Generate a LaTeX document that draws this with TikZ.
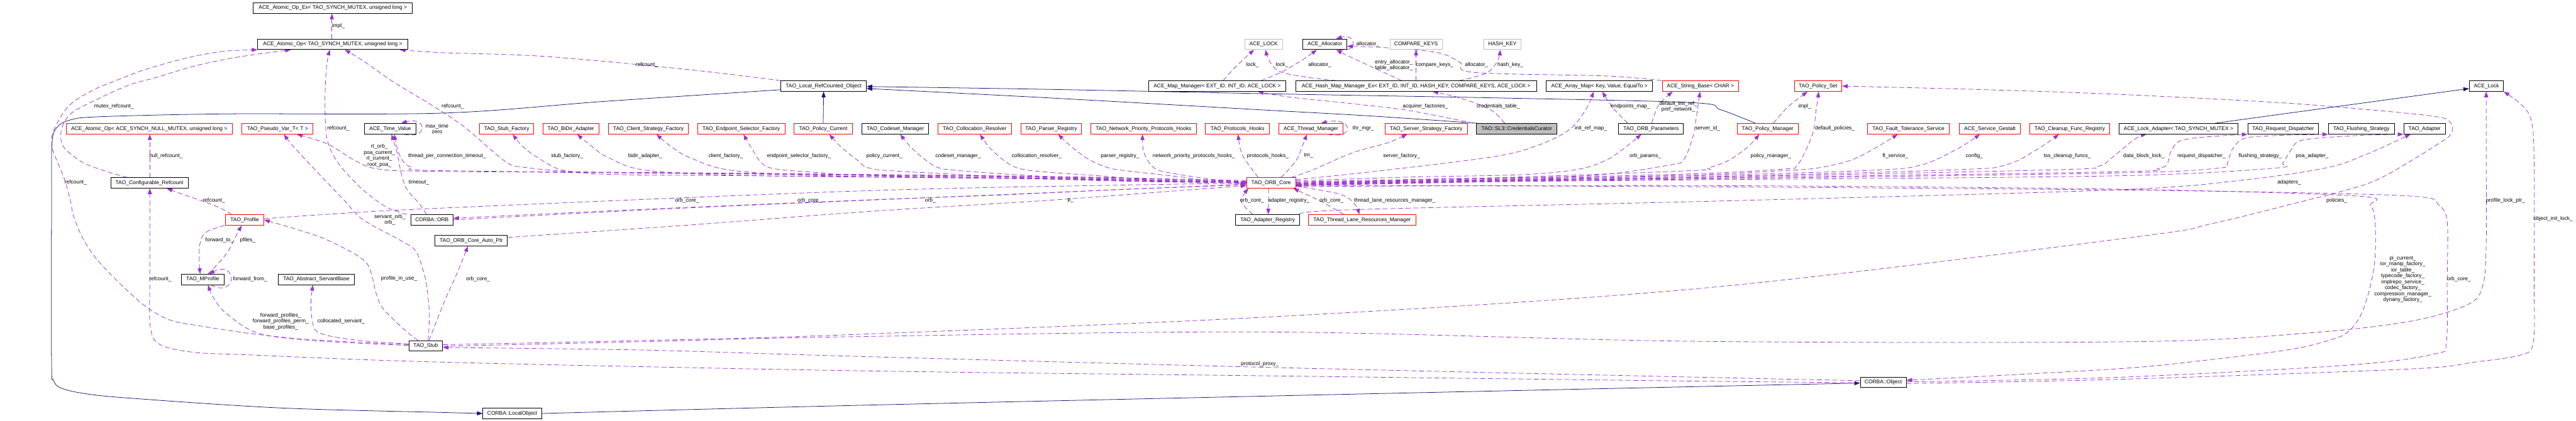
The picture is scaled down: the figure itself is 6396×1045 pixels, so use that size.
\documentclass[tikz,border=0pt]{standalone}
\usepackage{fontspec}
\setmainfont{Liberation Sans}
\usetikzlibrary{arrows.meta}
\definecolor{usecol}{HTML}{9A32CD}
\definecolor{inhcol}{HTML}{191970}
\definecolor{redcol}{HTML}{FF0000}
\definecolor{graycol}{HTML}{BFBFBF}
\pgfdeclarelayer{bgl}
\pgfdeclarelayer{edges}
\pgfsetlayers{bgl,edges,main}
\begin{document}
\begin{tikzpicture}[x=1pt,y=-1pt,
 box/.style={draw=black,line width=1.4pt,fill=white,minimum height=26pt,inner sep=0pt,font=\fontsize{13.2}{14.8}\selectfont},
 rbox/.style={box,draw=redcol},
 gbox/.style={box,draw=graycol},
 mbox/.style={box,fill=graycol},
 lbl/.style={inner sep=0pt,align=center,font=\fontsize{13.2}{14.8}\selectfont},
 use/.style={draw=usecol,line width=1.2pt,dash pattern=on 12pt off 7pt,-{Triangle[length=14pt,width=10pt]}},
 inh/.style={draw=inhcol,line width=1.2pt,-{Triangle[length=14pt,width=10pt]}},
 sm/.style={smooth,tension=0.55}
]
\begin{pgfonlayer}{bgl}
\fill[white] (0,0) rectangle (6396,1045);
\end{pgfonlayer}
\useasboundingbox (0,0) rectangle (6396,1045);

% ---------- nodes ----------
\node[box,minimum width=395] (aopex) at (826.5,20) {ACE\_Atomic\_Op\_Ex< TAO\_SYNCH\_MUTEX, unsigned long >};
\node[box,minimum width=372] (aop) at (826,110) {ACE\_Atomic\_Op< TAO\_SYNCH\_MUTEX, unsigned long >};
\node[gbox,minimum width=93] (acelock) at (3137.5,110) {ACE\_LOCK};
\node[box,minimum width=109] (alloc) at (3289.5,110) {ACE\_Allocator};
\node[gbox,minimum width=130] (cmpk) at (3516,110) {COMPARE\_KEYS};
\node[gbox,minimum width=91] (hashk) at (3730.5,110) {HASH\_KEY};

\node[box,minimum width=212] (lrc) at (2045,214) {TAO\_Local\_RefCounted\_Object};
\node[box,minimum width=340] (mapmgr) at (3022,214) {ACE\_Map\_Manager< EXT\_ID, INT\_ID, ACE\_LOCK >};
\node[box,minimum width=598] (hashmap) at (3516,214) {ACE\_Hash\_Map\_Manager\_Ex< EXT\_ID, INT\_ID, HASH\_KEY, COMPARE\_KEYS, ACE\_LOCK >};
\node[box,minimum width=264] (arraymap) at (3971,214) {ACE\_Array\_Map< Key, Value, EqualTo >};
\node[rbox,minimum width=190] (strbase) at (4222,214) {ACE\_String\_Base< CHAR >};
\node[rbox,minimum width=118] (polset) at (4514,214) {TAO\_Policy\_Set};
\node[box,minimum width=85] (acelk) at (6173.5,214) {ACE\_Lock};

\node[rbox,minimum width=413] (aopnull) at (370.5,320) {ACE\_Atomic\_Op< ACE\_SYNCH\_NULL\_MUTEX, unsigned long >};
\node[rbox,minimum width=176] (pseudo) at (689,320) {TAO\_Pseudo\_Var\_T< T >};
\node[box,minimum width=128] (timev) at (969,320) {ACE\_Time\_Value};
\node[rbox,minimum width=134] (stubf) at (1258,320) {TAO\_Stub\_Factory};
\node[rbox,minimum width=139] (bidir) at (1417.5,320) {TAO\_BiDir\_Adapter};
\node[rbox,minimum width=198] (clientf) at (1610,320) {TAO\_Client\_Strategy\_Factory};
\node[rbox,minimum width=217] (epsel) at (1840.5,320) {TAO\_Endpoint\_Selector\_Factory};
\node[rbox,minimum width=144] (polcur) at (2044,320) {TAO\_Policy\_Current};
\node[box,minimum width=166] (codeset) at (2223,320) {TAO\_Codeset\_Manager};
\node[rbox,minimum width=182] (colres) at (2420,320) {TAO\_Collocation\_Resolver};
\node[rbox,minimum width=150] (parser) at (2610,320) {TAO\_Parser\_Registry};
\node[rbox,minimum width=263] (netprio) at (2839.5,320) {TAO\_Network\_Priority\_Protocols\_Hooks};
\node[rbox,minimum width=159] (prothooks) at (3072.5,320) {TAO\_Protocols\_Hooks};
\node[rbox,minimum width=160] (thrmgr) at (3255,320) {ACE\_Thread\_Manager};
\node[rbox,minimum width=204] (srvf) at (3541,320) {TAO\_Server\_Strategy\_Factory};
\node[mbox,minimum width=200] (cc) at (3766,320) {TAO::SL3::CredentialsCurator};
\node[box,minimum width=161] (orbparams) at (4099.5,320) {TAO\_ORB\_Parameters};
\node[rbox,minimum width=152] (polmgr) at (4389,320) {TAO\_Policy\_Manager};
\node[rbox,minimum width=203] (ft) at (4738.5,320) {TAO\_Fault\_Tolerance\_Service};
\node[rbox,minimum width=153] (gestalt) at (4940.5,320) {ACE\_Service\_Gestalt};
\node[rbox,minimum width=198] (cleanup) at (5139,320) {TAO\_Cleanup\_Func\_Registry};
\node[box,minimum width=296] (lockad) at (5409,320) {ACE\_Lock\_Adapter< TAO\_SYNCH\_MUTEX >};
\node[box,minimum width=176] (reqdisp) at (5669,320) {TAO\_Request\_Dispatcher};
\node[box,minimum width=164] (flush) at (5863,320) {TAO\_Flushing\_Strategy};
\node[box,minimum width=104] (adapter) at (6020,320) {TAO\_Adapter};

\node[box,minimum width=192] (cfgref) at (371,454.5) {TAO\_Configurable\_Refcount};
\node[rbox,minimum width=122] (orbcore) at (3156,454.5) {TAO\_ORB\_Core};
\node[rbox,minimum width=95] (profile) at (607.5,546.5) {TAO\_Profile};
\node[box,minimum width=105] (orb) at (1072.5,546.5) {CORBA::ORB};
\node[box,minimum width=159] (adreg) at (3147.5,546.5) {TAO\_Adapter\_Registry};
\node[rbox,minimum width=266] (tlrm) at (3382,546.5) {TAO\_Thread\_Lane\_Resources\_Manager};
\node[box,minimum width=180] (autoptr) at (1170,598) {TAO\_ORB\_Core\_Auto\_Ptr};
\node[box,minimum width=105] (mprofile) at (503.5,694.5) {TAO\_MProfile};
\node[box,minimum width=189] (servant) at (785.5,694.5) {TAO\_Abstract\_ServantBase};
\node[box,minimum width=84] (stub) at (1057,859.5) {TAO\_Stub};
\node[box,minimum width=114] (corbaobj) at (4676,950) {CORBA::Object};
\node[box,minimum width=146] (localobj) at (1272,1027.5) {CORBA::LocalObject};

% ---------- labels ----------
\node[lbl] (t01) at (840,64) {impl\_};
\node[lbl] (t02) at (1606,161) {refcount\_};
\node[lbl] (t03) at (1124,265) {refcount\_};
\node[lbl] (t04) at (840,319) {refcount\_};
\node[lbl] (t05) at (283,265) {mutex\_refcount\_};
\node[lbl] (t06) at (188,453) {refcount\_};
\node[lbl] (t07) at (412,387) {null\_refcount\_};
\node[lbl] (t08) at (531,499) {refcount\_};
\node[lbl] (t09) at (398,693) {refcount\_};
\node[lbl] (t10) at (545,597) {forward\_to\_};
\node[lbl] (t11) at (615,597) {pfiles\_};
\node[lbl] (t12) at (621,693) {forward\_from\_};
\node[lbl] (t13) at (697,799) {forward\_profiles\_\\forward\_profiles\_perm\_\\base\_profiles\_};
\node[lbl] (t14) at (847,799) {collocated\_servant\_};
\node[lbl] (t15) at (991,693) {profile\_in\_use\_};
\node[lbl] (t16) at (968,546) {servant\_orb\_\\orb\_};
\node[lbl] (t17) at (1187,693) {orb\_core\_};
\node[lbl] (t18) at (5802,499) {policies\_};
\node[lbl] (t19) at (6221,499) {profile\_lock\_ptr\_};
\node[lbl] (t20) at (3128,904) {protocol\_proxy\_};
\node[lbl] (t21) at (6339,544) {object\_init\_lock\_};
\node[lbl] (t22) at (6105,693) {orb\_core\_};
\node[lbl] (t23) at (5966,694) {pi\_current\_\\ior\_manip\_factory\_\\ior\_table\_\\typecode\_factory\_\\implrepo\_service\_\\codec\_factory\_\\compression\_manager\_\\dynany\_factory\_};
\node[lbl] (t24) at (5684,453) {adapters\_};
\node[lbl] (t25) at (942,387) {rt\_orb\_\\poa\_current\_\\rt\_current\_\\root\_poa\_};
\node[lbl] (t26) at (1110,387) {thread\_per\_connection\_timeout\_};
\node[lbl] (t27) at (1040,453) {timeout\_};
\node[lbl] (t28) at (1408,387) {stub\_factory\_};
\node[lbl] (t29) at (1602,387) {bidir\_adapter\_};
\node[lbl] (t30) at (1802,387) {client\_factory\_};
\node[lbl] (t31) at (1984,387) {endpoint\_selector\_factory\_};
\node[lbl] (t32) at (2196,387) {policy\_current\_};
\node[lbl] (t33) at (2379,387) {codeset\_manager\_};
\node[lbl] (t34) at (2574,387) {collocation\_resolver\_};
\node[lbl] (t35) at (2781,387) {parser\_registry\_};
\node[lbl] (t36) at (2964,387) {network\_priority\_protocols\_hooks\_};
\node[lbl] (t37) at (3148,387) {protocols\_hooks\_};
\node[lbl] (t38) at (3249,387) {tm\_};
\node[lbl] (t39) at (3480,387) {server\_factory\_};
\node[lbl] (t40) at (3950,319) {init\_ref\_map\_};
\node[lbl] (t41) at (4085,387) {orb\_params\_};
\node[lbl] (t42) at (4240,319) {server\_id\_};
\node[lbl] (t43) at (4397,387) {policy\_manager\_};
\node[lbl] (t44) at (4556,319) {default\_policies\_};
\node[lbl] (t45) at (4481,265) {impl\_};
\node[lbl] (t46) at (4706,387) {ft\_service\_};
\node[lbl] (t47) at (4902,387) {config\_};
\node[lbl] (t48) at (5133,387) {tss\_cleanup\_funcs\_};
\node[lbl] (t49) at (5323,387) {data\_block\_lock\_};
\node[lbl] (t50) at (5466,387) {request\_dispatcher\_};
\node[lbl] (t51) at (5612,387) {flushing\_strategy\_};
\node[lbl] (t52) at (5741,387) {poa\_adapter\_};
\node[lbl] (t53) at (3110,161) {lock\_};
\node[lbl] (t54) at (3183,161) {lock\_};
\node[lbl] (t55) at (3277,161) {allocator\_};
\node[lbl] (t56) at (3461,162) {entry\_allocator\_\\table\_allocator\_};
\node[lbl] (t57) at (3562,161) {compare\_keys\_};
\node[lbl] (t58) at (3666,161) {allocator\_};
\node[lbl] (t59) at (3750,161) {hash\_key\_};
\node[lbl] (t60) at (3396,109) {allocator\_};
\node[lbl] (t61) at (3539,265) {acquirer\_factories\_};
\node[lbl] (t62) at (3720,265) {credentials\_table\_};
\node[lbl] (t63) at (4048,265) {endpoints\_map\_};
\node[lbl] (t64) at (4167,265) {default\_init\_ref\_\\pref\_network\_};
\node[lbl] (t65) at (3385,319) {thr\_mgr\_};
\node[lbl] (t66) at (1085,320) {max\_time\\zero};
\node[lbl] (t67) at (1706,499) {orb\_core\_};
\node[lbl] (t68) at (2010,499) {orb\_core\_};
\node[lbl] (t69) at (2310,499) {orb\_};
\node[lbl] (t70) at (2658,499) {p\_};
\node[lbl] (t71) at (3109,499) {orb\_core\_};
\node[lbl] (t72) at (3200,499) {adapter\_registry\_};
\node[lbl] (t73) at (3306,499) {orb\_core\_};
\node[lbl] (t74) at (3463,499) {thread\_lane\_resources\_manager\_};

% ---------- edges ----------
\begin{pgfonlayer}{edges}
% inheritance
\draw[inh] (polcur.north) -- (lrc.south);
\draw[inh] plot[sm] coordinates {([xshift=-97]cc.north) (3400,288) (3150,274) (2600,243) ([yshift=-6]lrc.east)};
\draw[inh] plot[sm] coordinates {([xshift=-30]polmgr.north) (4326,293) (4270,272) (4200,255) (3700,243) (3200,234) (2600,222) ([yshift=-1]lrc.east)};
\draw[inh] plot[sm] coordinates {([yshift=-9]lrc.west) (1500,252) (1100,281) (561,283) (250,290) (175,298) (140,318) (129,360) (128,500) (128,900) (133,945) (151,964) (210,978) (330,990) (701,1014) (1100,1025) (localobj.west)};
\draw[inh] plot[sm] coordinates {(localobj.east) (2100,1008) (3200,983) (4200,961) ([yshift=-2]corbaobj.west)};
\draw[inh] ([xshift=90]lockad.north) -- ([yshift=-6]acelk.west);

% top area
\draw[use] ([xshift=-2]aop.north) -- ([xshift=-2.5]aopex.south);
\draw[use] plot[sm] coordinates {(lrc.north west) (1700,172) (1350,140) (1100,131) ([xshift=-20]aop.south east)};
\draw[use] plot[sm] coordinates {([yshift=6]orbcore.west) (2700,442) (1900,433) (1471,428) (1303,416) (1253,400) (1155,317) (1073,262) (982,207) (900,150) ([xshift=30]aop.south)};
\draw[use] plot[sm] coordinates {([xshift=-62]orb.north) (960,515) (905,475) (860,430) (830,390) (812,345) (807,276) (808,207) (812,155) ([xshift=-7]aop.south)};
\draw[use] plot[sm] coordinates {([xshift=-55]cfgref.north) (267,427) (210,406) (175,382) (158,365) (151,344) (154,317) (172,286) (210,262) (316,213) (386,193) (491,162) (596,141) ([xshift=-104]aop.south)};
\draw[use] plot[sm] coordinates {([yshift=3]stub.west) (772,844) (631,830) (491,809) (421,795) (365,764) (316,722) (267,674) (231,632) (203,587) (182,535) (175,499) (161,448) (147,413) (133,379) (128,358) (130,334) (140,310) (161,275) (189,248) (239,220) (281,203) (351,176) (421,155) (491,138) (561,127) (aop.south west)};
\draw[use] ([xshift=1]cfgref.north) -- ([xshift=1.5]aopnull.south);
\draw[use] plot[sm] coordinates {([xshift=-32]profile.north) (545,516) (512,503) (460,485) ([xshift=43]cfgref.south)};
\draw[use] plot[sm] coordinates {([yshift=-1]corbaobj.west) (4200,947) (3150,934) (2107,921) (1100,900) (620,882) (477,875) (395,855) (373,810) (372,700) (372,560) ([xshift=1]cfgref.south)};

% profiles / stub
\draw[use] plot[sm] coordinates {([xshift=-50]profile.south) (519,573) (502,588) (495,616) (495,654) ([xshift=-6.5]mprofile.north)};
\draw[use] plot[sm] coordinates {([xshift=13]mprofile.north) (547,649) (568,622) (582,594) ([xshift=-7.5]profile.south)};
\draw[use] ([xshift=20]mprofile.south) .. controls (590,742) and (590,645) .. ([xshift=15]mprofile.north);
\draw[use] plot[sm] coordinates {([yshift=1]stub.west) (772,846) (638,827) (561,778) (530,740) ([xshift=13]mprofile.south)};
\draw[use] plot[sm] coordinates {([yshift=5]stub.west) (912,848) (828,837) (786,823) (775,796) (772,750) ([xshift=-8.5]servant.south)};
\draw[use] plot[sm] coordinates {([xshift=-19]stub.north) (1017,830) (982,799) (947,761) (933,726) (926,695) (912,656) (877,629) (807,594) (737,570) (profile.east)};
\draw[use] plot[sm] coordinates {([xshift=6]stub.north) (1066,778) (1059,708) (1049,667) (1031,622) (990,595) (900,545) (856,499) (807,448) (758,396) (723,358) ([xshift=16]pseudo.south)};
\draw[use] plot[sm] coordinates {([xshift=8]stub.north) (1078,813) (1106,743) (1134,681) ([xshift=-8]autoptr.south)};
\draw[use] plot[sm] coordinates {([xshift=-13.5]orb.north) (1040,505) (1010,470) (996,430) (986,380) ([xshift=3]timev.south)};

% long edges through the lower part
\draw[use] plot[sm] coordinates {([yshift=3]stub.east) (1600,846) (2100,832) (3200,785) (4250,714) (5300,589) (5491,556) (5718,500) (5805,478) (5908,444) (6047,362) (6087,331) (6083,303) (6050,290) (5908,275) (5659,255) (5250,234) (4900,222) (polset.east)};
\draw[use] plot[sm] coordinates {([yshift=-1]stub.east) (1600,849) (2100,837) (3150,825) (4200,848) (5300,849) (5725,828) (5981,799) (6127,757) (6165,708) (6173,600) (6173,400) ([xshift=-0.5]acelk.south)};
\draw[use] plot[sm] coordinates {([yshift=4]corbaobj.west) (4200,937) (3150,913) (2107,885) (1600,870) ([yshift=-4]stub.east)};
\draw[use] plot[sm] coordinates {([yshift=-3]corbaobj.east) (5250,943) (5981,917) (6142,900) (6259,882) (6290,850) (6292,700) (6292,400) (6285,300) (6260,260) (acelk.south east)};
\draw[use] plot[sm] coordinates {([yshift=1]corbaobj.east) (5250,938) (5835,907) (6047,879) (6074,850) (6076,700) (6076,550) (6054,508) (6017,490) (5805,481) (5250,472) (4200,464) ([yshift=-6]orbcore.east)};
\draw[use] plot[sm] coordinates {([yshift=-9]orbcore.east) (4200,461) (5250,470) (5850,487) (5886,510) (5897,552) (5897,639) (5886,708) (5864,778) (5835,820) (5798,841) (5689,868) (5469,896) (5250,917) ([yshift=5]corbaobj.east)};
\draw[use] plot[sm] coordinates {(adreg.north east) (3360,521) (4250,500) (5250,472) (5564,448) (5776,417) (5879,382) ([xshift=-35]adapter.south)};

% ORB core, left bundle
\draw[use] plot[sm] coordinates {([yshift=4]orbcore.west) (2700,441) (1900,432) (1100,426) (940,420) (880,398) (814,358) ([xshift=48]pseudo.south)};
\draw[use] plot[sm] coordinates {([yshift=3]orbcore.west) (2700,440) (1900,431) (1100,424) (1020,415) (992,385) ([xshift=10]timev.south)};
\draw[use] plot[sm] coordinates {([yshift=2]orbcore.west) (2700,444) (1900,437) (1541,434) (1401,424) (1331,389) (1296,362) ([xshift=15]stubf.south)};
\draw[use] plot[sm] coordinates {([yshift=1]orbcore.west) (2700,445) (1900,437) (1611,424) (1513,393) (1471,365) ([xshift=15.5]bidir.south)};
\draw[use] plot[sm] coordinates {(orbcore.west) (2700,446) (2100,438) (1822,424) (1716,393) (1667,365) ([xshift=20]clientf.south)};
\draw[use] plot[sm] coordinates {(orbcore.west) (2700,447) (2150,436) (2032,429) (1927,420) (1892,406) (1864,365) ([xshift=5.5]epsel.south)};
\draw[use] plot[sm] coordinates {(orbcore.west) (2700,448) (2240,426) (2156,417) (2130,399) (2088,365) ([xshift=15]polcur.south)};
\draw[use] plot[sm] coordinates {(orbcore.west) (2800,449) (2521,434) (2381,424) (2331,417) (2296,396) (2261,365) ([xshift=12]codeset.south)};
\draw[use] plot[sm] coordinates {(orbcore.west) (2900,450) (2731,437) (2591,427) (2528,418) (2493,399) (2458,368) ([xshift=13]colres.south)};
\draw[use] plot[sm] coordinates {(orbcore.west) (3000,451) (2942,441) (2802,425) (2752,417) (2703,396) (2661,365) ([xshift=17]parser.south)};
\draw[use] plot[sm] coordinates {(orbcore.west) (3012,446) (2907,430) (2865,417) (2840,379) ([xshift=-2.5]netprio.south)};
\draw[use] plot[sm] coordinates {([xshift=-32]orbcore.north) (3103,413) (3082,379) ([xshift=1.5]prothooks.south)};

% ORB core, right bundle
\draw[use] plot[sm] coordinates {([xshift=24]orbcore.north) (3192,430) (3220,396) (3234,362) ([xshift=-10]thrmgr.south)};
\draw[use] plot[sm] coordinates {([xshift=50]orbcore.north) (3255,424) (3360,379) (3445,355) ([xshift=-47]srvf.south)};
\draw[use] plot[sm] coordinates {([yshift=8]orbcore.east) (3431,424) (3711,389) (3816,362) (3894,324) (3936,275) ([xshift=-14]arraymap.south)};
\draw[use] plot[sm] coordinates {([yshift=5]orbcore.east) (3500,440) (3781,434) (3922,420) (3992,396) (4041,362) ([xshift=-24.5]orbparams.south)};
\draw[use] plot[sm] coordinates {([yshift=3]orbcore.east) (3600,444) (3950,436) (4146,410) (4181,396) (4202,344) (4209,310) ([xshift=-1]strbase.south)};
\draw[use] plot[sm] coordinates {([yshift=1]orbcore.east) (3700,442) (4200,424) (4242,417) (4291,399) (4340,365) ([xshift=-21]polmgr.south)};
\draw[use] plot[sm] coordinates {(orbcore.east) (3700,444) (4200,432) (4431,420) (4460,413) (4481,379) (4502,327) (4509,275) ([xshift=2]polset.south)};
\draw[use] plot[sm] coordinates {([yshift=-1]orbcore.east) (3700,446) (4200,435) (4410,425) (4509,418) (4593,399) (4656,368) ([xshift=-26.5]ft.south)};
\draw[use] plot[sm] coordinates {([yshift=-2]orbcore.east) (3700,447) (4200,437) (4650,423) (4770,410) (4860,370) ([xshift=-24.5]gestalt.south)};
\draw[use] plot[sm] coordinates {([yshift=-3]orbcore.east) (3700,448) (4200,440) (4850,422) (4980,410) (5060,370) ([xshift=-27]cleanup.south)};
\draw[use] plot[sm] coordinates {([yshift=-4]orbcore.east) (3700,449) (4200,441) (5100,422) (5210,413) (5240,395) (5300,346) ([xshift=-79]lockad.south)};
\draw[use] plot[sm] coordinates {([yshift=-5]orbcore.east) (3700,450) (4200,443) (5250,427) (5360,418) (5382,405) (5389,379) (5411,351) (5469,341) (reqdisp.south west)};
\draw[use] plot[sm] coordinates {([yshift=-6]orbcore.east) (3700,451) (4200,445) (5250,430) (5506,418) (5530,405) (5542,372) (5572,344) (5650,337) (flush.south west)};
\draw[use] plot[sm] coordinates {([yshift=-7]orbcore.east) (3700,452) (4200,447) (5250,437) (5645,418) (5668,405) (5689,372) (5718,348) (5850,337) (adapter.south west)};

% ORB core, lower
\draw[use] plot[sm] coordinates {(orb.east) (1700,517) (2500,483) (2950,464) ([yshift=-3]orbcore.west)};
\draw[use] plot[sm] coordinates {([yshift=3]profile.east) (807,533) (1100,517) (2150,474) (2900,458) ([yshift=-2]orbcore.west)};
\draw[use] plot[sm] coordinates {([yshift=-5]orbcore.west) (2800,470) (2500,484) (2150,497) (1600,520) ([yshift=4]orb.east)};
\draw[use] plot[sm] coordinates {([yshift=8]autoptr.east) (1700,560) (2150,526) (2600,498) (2950,472) ([yshift=-7]orbcore.west)};
\draw[use] plot[sm] coordinates {([xshift=-37]adreg.north) (3082,500) ([xshift=-56]orbcore.south)};
\draw[use] ([xshift=-6]orbcore.south) -- ([xshift=1.5]adreg.north);
\draw[use] plot[sm] coordinates {([xshift=-46]tlrm.north) (3285,503) ([xshift=55]orbcore.south)};
\draw[use] plot[sm] coordinates {([yshift=-8]orbcore.east) (3325,482) (3362,505) ([xshift=-7]tlrm.north)};

% maps, allocator, keys
\draw[use] plot[sm] coordinates {([xshift=15]mapmgr.north) (3062,172) (3090,145) ([xshift=-23.5]acelock.south)};
\draw[use] plot[sm] coordinates {([xshift=109]mapmgr.north) (3180,180) (3232,150) ([xshift=-20]alloc.south)};
\draw[use] plot[sm] coordinates {([xshift=-198]hashmap.north) (3245,192) (3178,178) (3152,152) ([xshift=4.5]acelock.south)};
\draw[use] plot[sm] coordinates {([xshift=-36]hashmap.north) (3410,168) (3345,138) ([xshift=28.5]alloc.south)};
\draw[use] (hashmap.north) -- (cmpk.south);
\draw[use] plot[sm] coordinates {([xshift=107]hashmap.north) (3690,182) (3718,152) ([xshift=-5.5]hashk.south)};
\draw[use] plot[sm] coordinates {(strbase.north west) (3992,189) (3660,180) (3625,155) (3571,131) (3450,119) ([yshift=-5]alloc.east)};
\draw[use] ([xshift=35]alloc.south) .. controls (3375,132) and (3368,82) .. ([xshift=28]alloc.north);
\draw[use] plot[sm] coordinates {([xshift=-108]cc.north) (3501,275) (3360,258) (3200,241) ([xshift=101]mapmgr.south)};
\draw[use] plot[sm] coordinates {([xshift=-30]cc.north) (3700,272) (3620,242) ([xshift=41]hashmap.south)};
\draw[use] plot[sm] coordinates {([xshift=-58]orbparams.north) (4005,268) ([xshift=7]arraymap.south)};
\draw[use] plot[sm] coordinates {([xshift=1.5]orbparams.north) (4118,262) ([xshift=-69]strbase.south)};
\draw[use] plot[sm] coordinates {([xshift=14]polmgr.north) (4440,265) ([xshift=-26]polset.south)};
\draw[use] ([xshift=42]thrmgr.south) .. controls (3365,348) and (3360,288) .. ([xshift=25]thrmgr.north);
\draw[use] ([xshift=34]timev.south) .. controls (1065,348) and (1060,288) .. ([xshift=27]timev.north);
\end{pgfonlayer}
\end{tikzpicture}
\end{document}
